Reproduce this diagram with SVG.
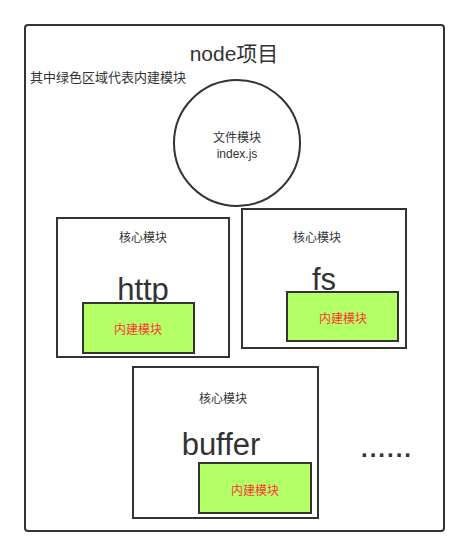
<svg xmlns="http://www.w3.org/2000/svg" width="469" height="557" viewBox="0 0 469 557">
<style>
.box{fill:#fff;stroke:#333;stroke-width:2}
.green{fill:#b3ff66;stroke:#333;stroke-width:2}
.t{font-family:"Liberation Sans","Noto Sans CJK SC",sans-serif;fill:#333;text-anchor:middle}
.s{font-size:12px}
.big{font-size:31px}
.red{fill:#ff3333;font-size:12px}
</style>
<rect width="469" height="557" fill="#fff"/>
<g id="project">
<rect x="25" y="25" width="419" height="506" rx="3" class="box"/>
<text x="234" y="61" class="t" style="font-size:21px">node项目</text>
<text x="30" y="82" class="t" style="font-size:13px;text-anchor:start">其中绿色区域代表内建模块</text>
</g>
<g id="file-module">
<circle cx="237" cy="143" r="63" class="box"/>
<text x="237" y="142" class="t s">文件模块</text>
<text x="237" y="158" class="t s">index.js</text>
</g>
<g id="http">
<rect x="57" y="218" width="172" height="139" class="box"/>
<text x="143" y="242" class="t s">核心模块</text>
<text x="143" y="300" class="t big">http</text>
<rect x="83" y="303" width="111" height="50" class="green"/>
<text x="138" y="334" class="t red">内建模块</text>
</g>
<g id="fs">
<rect x="242" y="209" width="164" height="139" class="box"/>
<text x="317" y="242" class="t s">核心模块</text>
<text x="324" y="290" class="t big">fs</text>
<rect x="287" y="292" width="111" height="49" class="green"/>
<text x="343" y="323" class="t red">内建模块</text>
</g>
<g id="buffer">
<rect x="133" y="367" width="185" height="151" class="box"/>
<text x="223" y="403" class="t s">核心模块</text>
<text x="221" y="455" class="t big">buffer</text>
<rect x="199" y="463" width="112" height="50" class="green"/>
<text x="255" y="495" class="t red">内建模块</text>
</g>
<g id="more">
<text x="361" y="457" class="t" style="font-size:24px;font-weight:bold;letter-spacing:2px;text-anchor:start">......</text>
</g>
<g id="connectors"></g>
</svg>
